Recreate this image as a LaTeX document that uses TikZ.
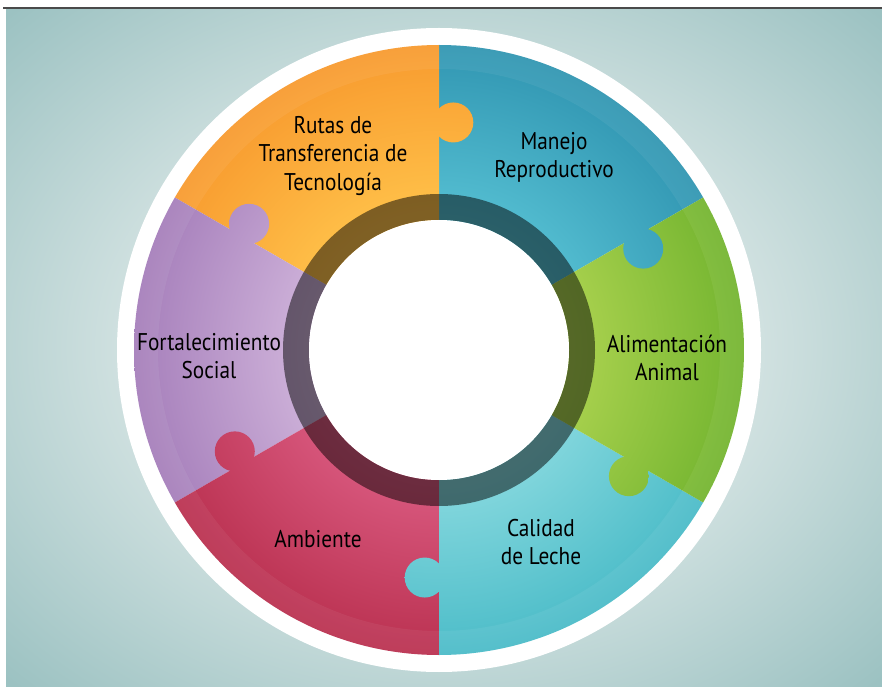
\documentclass[tikz,border=0pt]{standalone}
\usepackage{fontspec}
\setmainfont[FakeStretch=0.88]{PT Sans}
\usetikzlibrary{calc}

\definecolor{inblue}{HTML}{55BFD2}
\definecolor{outblue}{HTML}{3196B2}
\definecolor{inorange}{HTML}{FFC24A}
\definecolor{outorange}{HTML}{F89B2F}
\definecolor{inpurple}{HTML}{CFB3DA}
\definecolor{outpurple}{HTML}{A67FBB}
\definecolor{incrimson}{HTML}{D9597F}
\definecolor{outcrimson}{HTML}{BA3150}
\definecolor{incyan}{HTML}{86D8DE}
\definecolor{outcyan}{HTML}{4BBCC8}
\definecolor{ingreen}{HTML}{ABD24F}
\definecolor{outgreen}{HTML}{74B530}
\definecolor{bglight}{HTML}{E3ECEB}
\definecolor{bgdark}{HTML}{9CC2C2}
\definecolor{topline}{HTML}{4A4A4A}

\pgfdeclareradialshading{backdrop}{\pgfpoint{0bp}{0bp}}{color(0bp)=(bglight); color(12bp)=(bglight); color(35bp)=(bgdark); color(50bp)=(bgdark)}
\pgfdeclareradialshading{segblue}{\pgfpoint{0bp}{0bp}}{color(0bp)=(inblue); color(11bp)=(inblue); color(25bp)=(outblue); color(50bp)=(outblue)}
\pgfdeclareradialshading{segorange}{\pgfpoint{0bp}{0bp}}{color(0bp)=(inorange); color(11bp)=(inorange); color(25bp)=(outorange); color(50bp)=(outorange)}
\pgfdeclareradialshading{segpurple}{\pgfpoint{0bp}{0bp}}{color(0bp)=(inpurple); color(11bp)=(inpurple); color(25bp)=(outpurple); color(50bp)=(outpurple)}
\pgfdeclareradialshading{segcrimson}{\pgfpoint{0bp}{0bp}}{color(0bp)=(incrimson); color(11bp)=(incrimson); color(25bp)=(outcrimson); color(50bp)=(outcrimson)}
\pgfdeclareradialshading{segcyan}{\pgfpoint{0bp}{0bp}}{color(0bp)=(incyan); color(11bp)=(incyan); color(25bp)=(outcyan); color(50bp)=(outcyan)}
\pgfdeclareradialshading{seggreen}{\pgfpoint{0bp}{0bp}}{color(0bp)=(ingreen); color(11bp)=(ingreen); color(25bp)=(outgreen); color(50bp)=(outgreen)}

\tikzset{
  lbl/.style={align=center, inner sep=0pt, text=black, font=\fontsize{17.2}{20}\selectfont},
}

\begin{document}
\begin{tikzpicture}[x=0.025cm, y=0.025cm]
    \useasboundingbox (0,0) rectangle (882,686);
    \fill[white] (0,0) rectangle (882,686);

    % backdrop
    \shade[shading=backdrop] (6,0) rectangle (882,677);
    \draw[topline, line width=0.8pt] (3,678) -- (882,678);

    \coordinate (c) at (439,336);
    \fill[white] (c) circle (322);

    % pieces
    \foreach \col/\a in {blue/30, orange/90, purple/150, crimson/210, cyan/270, green/330} {
      \begin{scope}
        \clip (c) -- ($(c)+(\a:305)$) arc[start angle=\a, end angle=\a+60, radius=305] -- cycle;
        \shade[shading=seg\col] (c) circle (305);
      \end{scope}
    }
    % tabs
    \foreach \col/\a in {blue/30, orange/90, purple/150, crimson/210, cyan/270, green/330} {
      \begin{scope}
        \clip ($(c)+(\a-3.6:228)$) circle (20);
        \shade[shading=seg\col] (c) circle (305);
      \end{scope}
    }

    \fill[white, opacity=0.06, even odd rule] (c) circle (305) circle (281);
    \fill[black, opacity=0.5, even odd rule] (c) circle (156) circle (130);
    \fill[white] (c) circle (130);

    \node[lbl] (rutas) at (333,530) {Rutas de\\Transferencia de\\Tecnología};
    \node[lbl] (manejo) at (554,529) {Manejo\\Reproductivo};
    \node[lbl] (alimentacion) at (667,328) {Alimentación\\Animal};
    \node[lbl] (calidad) at (541,144) {Calidad\\de Leche};
    \node[lbl] (ambiente) at (318,147) {Ambiente};
    \node[lbl] (fortalecimiento) at (209,330) {Fortalecimiento\\Social};
\end{tikzpicture}
\end{document}
